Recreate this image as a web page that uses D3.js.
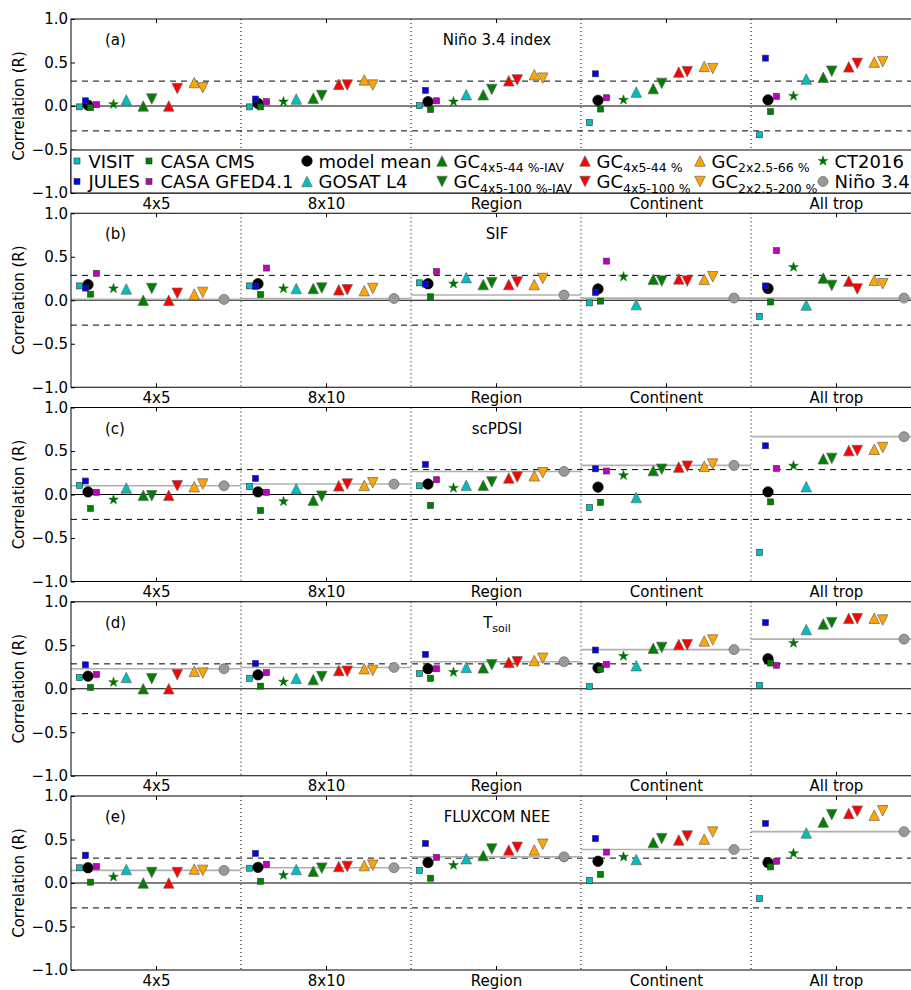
<!DOCTYPE html>
<html lang="en">
<head>
<meta charset="utf-8">
<script src="https://cdn.jsdelivr.net/npm/d3@7"></script>
<style>
  body { margin: 0; background: #fff; }
  text { font-family: "DejaVu Sans", sans-serif; fill: #000; }
</style>
</head>
<body>
<div id="chart"></div>
<script>
'use strict';

// ---- data ----
const groups = ["4x5", "8x10", "Region", "Continent", "All trop"];
const panelLetters = ["(a)", "(b)", "(c)", "(d)", "(e)"];
const panelTitles = [["Niño 3.4 index", ""], ["SIF", ""], ["scPDSI", ""], ["T", "soil"], ["FLUXCOM NEE", ""]];
const yTicks = [-1, -0.5, 0, 0.5, 1];
const sigLevel = 0.286;

// one row per panel (a)..(e), one value per group
const visit = [
  [-0.01, -0.01, 0.005, -0.19, -0.33],
  [0.165, 0.165, 0.20, -0.03, -0.185],
  [0.105, 0.09, 0.10, -0.15, -0.665],
  [0.13, 0.12, 0.175, 0.025, 0.04],
  [0.175, 0.17, 0.145, 0.03, -0.18]
];
const jules = [
  [0.06, 0.08, 0.18, 0.37, 0.55],
  [0.14, 0.16, 0.185, 0.09, 0.165],
  [0.155, 0.185, 0.345, 0.295, 0.56],
  [0.275, 0.29, 0.395, 0.445, 0.76],
  [0.32, 0.34, 0.455, 0.51, 0.685]
];
const casaCms = [
  [-0.02, -0.01, -0.04, -0.035, -0.065],
  [0.07, 0.065, 0.04, -0.01, -0.02],
  [-0.16, -0.185, -0.125, -0.09, -0.085],
  [0.015, 0.03, 0.12, 0.225, 0.295],
  [0.01, 0.02, 0.055, 0.10, 0.185]
];
const casaGfed = [
  [0.015, 0.05, 0.06, 0.095, 0.11],
  [0.31, 0.37, 0.33, 0.45, 0.57],
  [0.025, 0.025, 0.17, 0.27, 0.30],
  [0.165, 0.185, 0.23, 0.28, 0.27],
  [0.19, 0.215, 0.295, 0.355, 0.25]
];
const modelMean = [
  [0.01, 0.03, 0.05, 0.065, 0.07],
  [0.18, 0.19, 0.19, 0.13, 0.135],
  [0.03, 0.03, 0.12, 0.085, 0.03],
  [0.145, 0.16, 0.23, 0.24, 0.345],
  [0.175, 0.18, 0.235, 0.25, 0.235]
];
const gosat = [
  [0.07, 0.08, 0.13, 0.16, 0.31],
  [0.13, 0.135, 0.26, -0.05, -0.055],
  [0.075, 0.065, 0.105, -0.035, 0.09],
  [0.13, 0.12, 0.245, 0.265, 0.68],
  [0.155, 0.155, 0.28, 0.27, 0.575]
];
const ct2016 = [
  [0.02, 0.05, 0.05, 0.07, 0.115],
  [0.135, 0.135, 0.19, 0.27, 0.38],
  [-0.06, -0.08, 0.075, 0.22, 0.33],
  [0.075, 0.08, 0.19, 0.375, 0.525],
  [0.07, 0.09, 0.205, 0.30, 0.34]
];
const gc44Iav = [
  [0.0, 0.09, 0.13, 0.20, 0.33],
  [0.0, 0.135, 0.18, 0.24, 0.255],
  [-0.01, -0.065, 0.105, 0.275, 0.41],
  [0.0, 0.105, 0.24, 0.465, 0.745],
  [0.0, 0.135, 0.315, 0.465, 0.70]
];
const gc100Iav = [
  [0.08, 0.12, 0.19, 0.26, 0.40],
  [0.135, 0.14, 0.20, 0.22, 0.17],
  [-0.015, -0.02, 0.145, 0.29, 0.415],
  [0.115, 0.14, 0.275, 0.475, 0.76],
  [0.12, 0.17, 0.39, 0.51, 0.785]
];
const gc44 = [
  [0.0, 0.25, 0.29, 0.39, 0.45],
  [0.0, 0.12, 0.18, 0.245, 0.22],
  [-0.01, 0.10, 0.19, 0.315, 0.505],
  [0.0, 0.21, 0.305, 0.51, 0.81],
  [0.0, 0.19, 0.38, 0.495, 0.80]
];
const gc100 = [
  [0.20, 0.24, 0.30, 0.395, 0.49],
  [0.08, 0.12, 0.21, 0.22, 0.13],
  [0.10, 0.12, 0.20, 0.325, 0.505],
  [0.16, 0.20, 0.31, 0.505, 0.805],
  [0.12, 0.19, 0.41, 0.54, 0.825]
];
const gc66 = [
  [0.27, 0.30, 0.36, 0.455, 0.505],
  [0.07, 0.11, 0.18, 0.24, 0.23],
  [0.09, 0.105, 0.215, 0.325, 0.52],
  [0.20, 0.23, 0.325, 0.55, 0.81],
  [0.16, 0.20, 0.38, 0.505, 0.78]
];
const gc200 = [
  [0.21, 0.24, 0.32, 0.43, 0.51],
  [0.09, 0.135, 0.25, 0.27, 0.19],
  [0.12, 0.135, 0.25, 0.35, 0.54],
  [0.18, 0.21, 0.35, 0.56, 0.79],
  [0.145, 0.205, 0.445, 0.585, 0.83]
];
const nino = [
  [null, null, null, null, null],
  [0.01, 0.02, 0.06, 0.025, 0.025],
  [0.10, 0.12, 0.265, 0.335, 0.665],
  [0.23, 0.245, 0.31, 0.45, 0.57],
  [0.145, 0.175, 0.30, 0.385, 0.59]
];

// ---- series styling (legend order, column by column) ----
const series = [
  {label: "VISIT", values: visit, pos: 0.5, shape: "square", fill: "#00BFBF"},
  {label: "JULES", values: jules, pos: 0.85, shape: "square", fill: "#0000FF"},
  {label: "CASA CMS", values: casaCms, pos: 1.15, shape: "square", fill: "#008000"},
  {label: "CASA GFED4.1", values: casaGfed, pos: 1.5, shape: "square", fill: "#BF00BF"},
  {label: "model mean", values: modelMean, pos: 1.0, shape: "circle", fill: "#000000", r: 5.2, stroke: "#000"},
  {label: "GOSAT L4", values: gosat, pos: 3.25, shape: "up", fill: "#00BFBF"},
  {label: "GC", sub: "4x5-44 %-IAV", values: gc44Iav, pos: 4.25, shape: "up", fill: "#008000"},
  {label: "GC", sub: "4x5-100 %-IAV", values: gc100Iav, pos: 4.75, shape: "down", fill: "#008000"},
  {label: "GC", sub: "4x5-44 %", values: gc44, pos: 5.75, shape: "up", fill: "#FF0000"},
  {label: "GC", sub: "4x5-100 %", values: gc100, pos: 6.25, shape: "down", fill: "#FF0000"},
  {label: "GC", sub: "2x2.5-66 %", values: gc66, pos: 7.25, shape: "up", fill: "#FFA500"},
  {label: "GC", sub: "2x2.5-200 %", values: gc200, pos: 7.75, shape: "down", fill: "#FFA500"},
  {label: "CT2016", values: ct2016, pos: 2.5, shape: "star", fill: "#007000"},
  {label: "Niño 3.4", values: nino, pos: 9.0, shape: "circle", fill: "#999999", r: 5, stroke: "#666"}
];
// model mean first so the small squares sit on top of it
const drawOrder = [4, 0, 1, 2, 3, 5, 6, 7, 8, 9, 10, 11, 12, 13];

// ---- layout ----
const svgWidth = 911, svgHeight = 990;
const plotLeft = 71, plotRight = 921;
const panelH = 174, panelStep = 194.25, firstTop = 19;
const groupWidth = 10;

const svg = d3.select("#chart").append("svg")
  .attr("width", svgWidth).attr("height", svgHeight);

const x = d3.scaleLinear().domain([0, groups.length * groupWidth]).range([plotLeft, plotRight]);

const triPath = (w, down) => {
  const h = w / 2, s = down ? -1 : 1;
  return `M0,${-h * s}L${-h},${h * s}L${h},${h * s}Z`;
};
const starPath = d3.symbol(d3.symbolStar, 30)();

function drawMarker(g, s, cx, cy) {
  if (s.shape === "square") {
    g.append("rect").attr("x", cx - 3).attr("y", cy - 3).attr("width", 6).attr("height", 6)
      .attr("fill", s.fill).attr("stroke", "#333").attr("stroke-width", 0.6);
  } else if (s.shape === "circle") {
    g.append("circle").attr("cx", cx).attr("cy", cy).attr("r", s.r)
      .attr("fill", s.fill).attr("stroke", s.stroke).attr("stroke-width", 0.7);
  } else if (s.shape === "up" || s.shape === "down") {
    g.append("path").attr("d", triPath(10.5, s.shape === "down"))
      .attr("transform", `translate(${cx},${cy})`)
      .attr("fill", s.fill).attr("stroke", "#666").attr("stroke-width", 0.7);
  } else if (s.shape === "star") {
    g.append("path").attr("d", starPath)
      .attr("transform", `translate(${cx},${cy})`)
      .attr("fill", s.fill).attr("stroke", s.fill).attr("stroke-width", 0.5);
  }
}

panelLetters.forEach((letter, p) => {
  const top = firstTop + p * panelStep;
  const y = d3.scaleLinear().domain([-1, 1]).range([top + panelH, top]);
  const g = svg.append("g");

  // reference lines
  g.append("line").attr("x1", plotLeft).attr("x2", plotRight)
    .attr("y1", y(0)).attr("y2", y(0)).attr("stroke", "#000").attr("stroke-width", 1);
  [sigLevel, -sigLevel].forEach(v => {
    g.append("line").attr("x1", plotLeft).attr("x2", plotRight)
      .attr("y1", y(v)).attr("y2", y(v)).attr("stroke", "#000")
      .attr("stroke-width", 1).attr("stroke-dasharray", "6,5");
  });

  // group dividers
  groups.slice(1).forEach((grp, i) => {
    const xv = x((i + 1) * groupWidth);
    g.append("line").attr("x1", xv).attr("x2", xv).attr("y1", top).attr("y2", top + panelH)
      .attr("stroke", "#000").attr("stroke-width", 1).attr("stroke-dasharray", "1,3");
  });

  // Nino 3.4 reference level per group
  nino[p].forEach((v, gi) => {
    if (v === null) return;
    g.append("line").attr("x1", x(gi * groupWidth)).attr("x2", x((gi + 1) * groupWidth))
      .attr("y1", y(v)).attr("y2", y(v)).attr("stroke", "#b0b0b0").attr("stroke-width", 1.6);
  });

  // markers
  drawOrder.forEach(si => {
    const s = series[si];
    s.values[p].forEach((v, gi) => {
      if (v === null) return;
      drawMarker(g, s, x(gi * groupWidth + s.pos), y(v));
    });
  });

  // axes
  const yAxis = d3.axisLeft(y).tickValues(yTicks).tickFormat(d3.format(".1f"))
    .tickSizeInner(-4).tickSizeOuter(0).tickPadding(3);
  const ya = g.append("g").attr("transform", `translate(${plotLeft},0)`).call(yAxis);
  ya.selectAll("text").attr("font-size", 15).attr("font-family", "DejaVu Sans");

  const centers = groups.map((d, i) => i * groupWidth + groupWidth / 2);
  const xAxis = d3.axisBottom(x).tickValues(centers).tickFormat((d, i) => groups[i])
    .tickSizeInner(-4).tickSizeOuter(0).tickPadding(5);
  const xa = g.append("g").attr("transform", `translate(0,${top + panelH})`).call(xAxis);
  xa.selectAll("text").attr("font-size", 15).attr("font-family", "DejaVu Sans");
  const xTop = d3.axisTop(x).tickValues(centers).tickFormat("").tickSizeInner(-4).tickSizeOuter(0);
  g.append("g").attr("transform", `translate(0,${top})`).call(xTop);
  g.selectAll(".domain").remove();

  g.append("rect").attr("x", plotLeft).attr("y", top).attr("width", plotRight - plotLeft)
    .attr("height", panelH).attr("fill", "none").attr("stroke", "#000").attr("stroke-width", 1);

  g.append("text").attr("x", 19).attr("y", top + panelH / 2)
    .attr("transform", `rotate(-90,19,${top + panelH / 2})`)
    .attr("text-anchor", "middle").attr("dominant-baseline", "middle")
    .attr("font-size", 15).text("Correlation (R)");

  // panel labels
  g.append("text").attr("x", 105).attr("y", top + 26).attr("font-size", 15).text(letter);
  const t = g.append("text").attr("x", x(2 * groupWidth + groupWidth / 2) + 1).attr("y", top + 26)
    .attr("text-anchor", "middle").attr("font-size", 15);
  t.append("tspan").text(panelTitles[p][0]);
  if (panelTitles[p][1]) t.append("tspan").attr("font-size", 11).attr("dy", 4).text(panelTitles[p][1]);

  // legend inside panel (a)
  if (p === 0) {
    const legTop = top + panelH - 43;
    const lg = svg.append("g");
    lg.append("rect").attr("x", plotLeft).attr("y", legTop).attr("width", plotRight - plotLeft)
      .attr("height", 43).attr("fill", "#fff").attr("stroke", "#000").attr("stroke-width", 1);
    const colX = [77, 149, 307, 442, 585, 700, 823];
    const rowY = [legTop + 11, legTop + 31.5];
    series.forEach((s, i) => {
      const mx = colX[Math.floor(i / 2)], my = rowY[i % 2];
      drawMarker(lg, s, mx, my);
      const lt = lg.append("text").attr("x", mx + 11.5).attr("y", my + 6.5).attr("font-size", 18);
      lt.append("tspan").text(s.label);
      if (s.sub) lt.append("tspan").attr("font-size", 12.5).attr("dy", 4.5).text(s.sub);
    });
  }
});
</script>
</body>
</html>
